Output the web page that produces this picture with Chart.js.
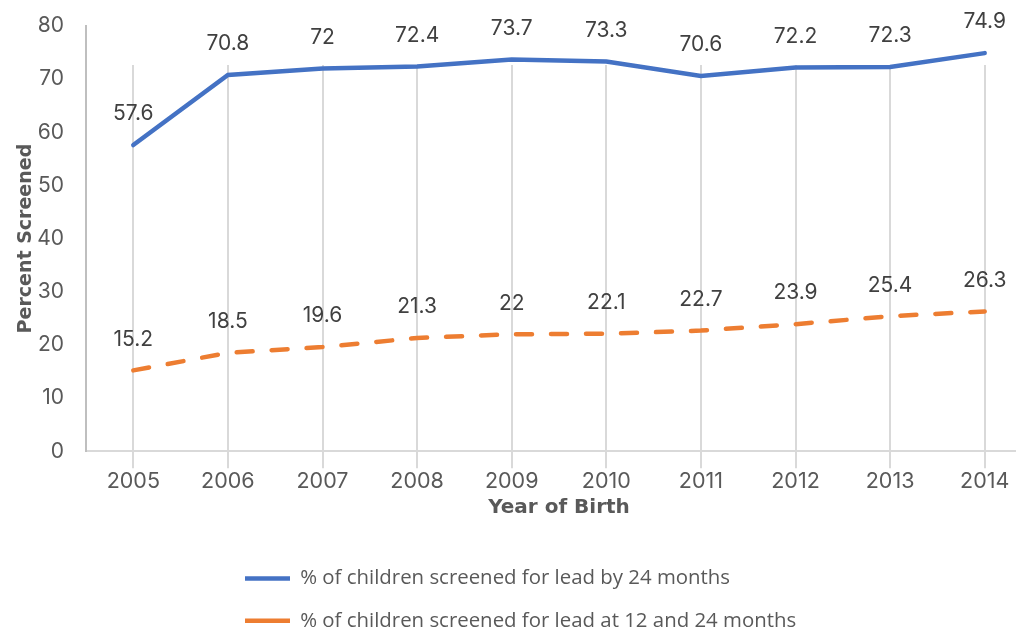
<!DOCTYPE html>
<html>
<head>
<meta charset="utf-8">
<script src="https://cdn.jsdelivr.net/npm/chart.js@4.4.1/dist/chart.umd.min.js"></script>
<style>
    html, body { margin: 0; padding: 0; background: #fff; overflow: hidden; width: 1016px; height: 629px; }
    #wrap { width: 1050px; height: 642px; position: relative; }
</style>
</head>
<body>
<div id="wrap"><canvas id="chart"></canvas></div>
<script>
// Values
const years = ['2005', '2006', '2007', '2008', '2009', '2010', '2011', '2012', '2013', '2014'];
const screenedBy24 = [57.6, 70.8, 72, 72.4, 73.7, 73.3, 70.6, 72.2, 72.3, 74.9];
const screened12and24 = [15.2, 18.5, 19.6, 21.3, 22, 22.1, 22.7, 23.9, 25.4, 26.3];
const seriesNames = [
    '% of children screened for lead by 24 months',
    '% of children screened for lead at 12 and 24 months'
];

const textColor = '#595959';

// value labels above every point
const pointLabels = {
    id: 'pointLabels',
    afterDatasetsDraw(chart) {
        const ctx = chart.ctx;
        ctx.save();
        ctx.font = '21px Inter';
        ctx.fillStyle = '#404040';
        ctx.textAlign = 'center';
        ctx.textBaseline = 'middle';
        chart.data.datasets.forEach((ds, i) => {
            chart.getDatasetMeta(i).data.forEach((pt, j) => {
                ctx.fillText(String(ds.data[j]), pt.x, pt.y - 31);
            });
        });
        ctx.restore();
    }
};

// the vertical gridlines stop short of the top of the value axis
const gridTop = {
    id: 'gridTop',
    beforeDatasetsDraw(chart) {
        const { ctx, chartArea } = chart;
        ctx.save();
        ctx.fillStyle = '#ffffff';
        ctx.fillRect(chartArea.left + 2, chartArea.top - 2, chartArea.right - chartArea.left, 41);
        ctx.restore();
    }
};

// legend rows are left aligned under the plot
const legendLeft = {
    id: 'legendLeft',
    beforeDraw(chart) {
        chart.legend.left = 245 - chart.legend.options.labels.padding;
    }
};

new Chart(document.getElementById('chart'), {
    type: 'line',
    data: {
        labels: years,
        datasets: [
            {
                label: seriesNames[0],
                data: screenedBy24,
                borderColor: '#4472C4',
                backgroundColor: '#4472C4',
                borderWidth: 4.5,
                borderCapStyle: 'round',
                pointRadius: 0,
                tension: 0
            },
            {
                label: seriesNames[1],
                data: screened12and24,
                borderColor: '#ED7D31',
                backgroundColor: '#ED7D31',
                borderWidth: 4.5,
                borderDash: [16, 19],
                borderCapStyle: 'round',
                pointRadius: 0,
                tension: 0
            }
        ]
    },
    options: {
        responsive: true,
        maintainAspectRatio: false,
        animation: false,
        devicePixelRatio: 1,
        layout: { padding: { top: 26, right: 18, left: 0, bottom: 1 } },
        plugins: {
            tooltip: { enabled: false },
            legend: {
                position: 'bottom',
                align: 'start',
                labels: {
                    usePointStyle: true,
                    pointStyle: 'line',
                    pointStyleWidth: 45,
                    padding: 22,
                    color: textColor,
                    font: { family: "'Open Sans'", size: 20.4 }
                }
            }
        },
        scales: {
            x: {
                offset: true,
                afterFit: (scale) => { scale.height = 95; },
                grid: {
                    offset: false,
                    color: '#d9d9d9',
                    lineWidth: 2,
                    tickLength: 17
                },
                border: { color: '#d9d9d9', width: 2 },
                ticks: {
                    color: textColor,
                    padding: 0,
                    font: { family: 'Inter', size: 21.5 }
                },
                title: {
                    display: true,
                    text: 'Year of Birth',
                    color: textColor,
                    padding: { top: 0, bottom: 26 },
                    font: { family: "'DejaVu Sans'", size: 20, weight: 'bold' }
                }
            },
            y: {
                min: 0,
                max: 80,
                afterFit: (scale) => {
                    scale.width = 86;
                    scale.paddingTop = 0;
                    scale.paddingBottom = 0;
                },
                grid: { display: false, drawTicks: false },
                border: { color: '#bfbfbf', width: 2 },
                ticks: {
                    stepSize: 10,
                    color: textColor,
                    padding: 22,
                    font: { family: 'Inter', size: 21 }
                },
                title: {
                    display: true,
                    text: 'Percent Screened',
                    color: textColor,
                    padding: { top: 15, bottom: 0 },
                    font: { family: "'DejaVu Sans'", size: 19, weight: 'bold' }
                }
            }
        }
    },
    plugins: [pointLabels, gridTop, legendLeft]
});
</script>
</body>
</html>
